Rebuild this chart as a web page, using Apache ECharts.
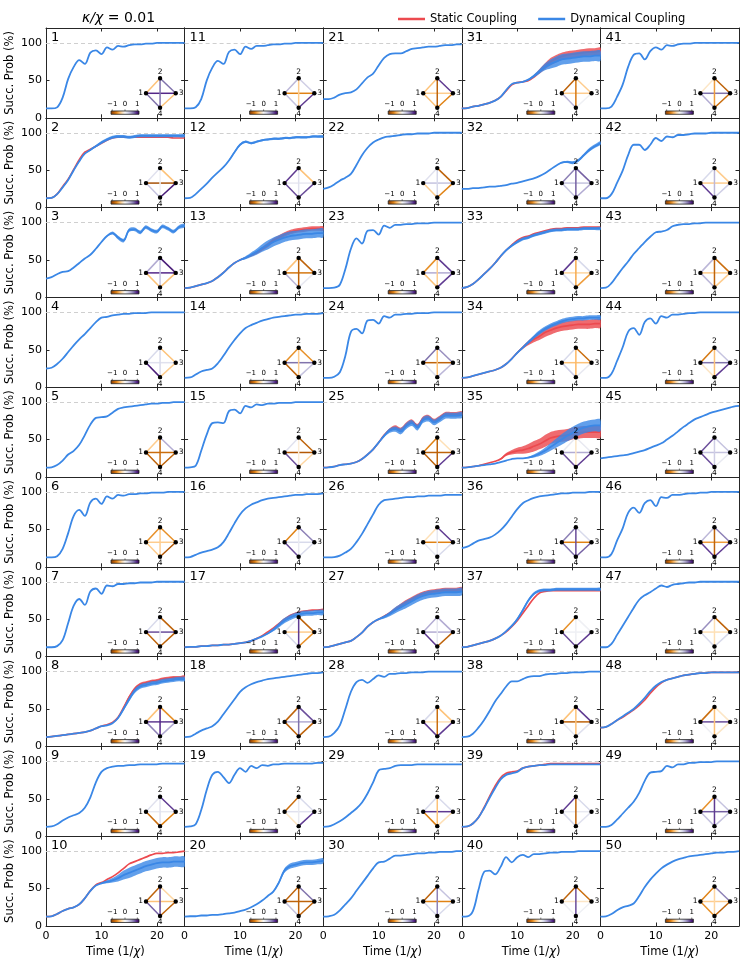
<!DOCTYPE html>
<html>
<head>
<meta charset="utf-8">
<script src="https://cdn.jsdelivr.net/npm/echarts/dist/echarts.min.js"></script>
<style>
  html, body { margin: 0; padding: 0; background: #ffffff; }
  #chart { width: 747px; height: 964px; }
</style>
</head>
<body>
<div id="chart"></div>
<script>
/* global echarts */

// 时间轴采样点 (1/χ)
const T = [0, 1, 2, 3, 4, 5, 6, 7, 8, 9, 10, 11, 12, 13, 14, 15, 16, 17, 18, 19, 20, 21, 22, 23, 24, 25];

// 动态耦合成功概率 (%)，每个面板一行，对应 T
const DYN = [
  [12.5,12.5,14,27,52,68,77,72,87,90,85,94,91,96,95,97,98,98,99,99,100,100,100,100,100,100], // 1
  [12.5,13,18,27,37,50,62,72,77,82,87,91,94,95,95,94,95,96,96,96,96,96,96,96,96,96],          // 2
  [25,27,31,34,35,40,46,52,57,65,74,82,86,80,76,90,91,87,94,90,88,95,92,88,94,96],            // 3
  [25,26,31,38,47,56,64,71,79,87,93,94,96,97,98,98,99,99,99,100,100,100,100,100,100,100],      // 4
  [12.5,13,16,22,30,35,43,56,70,79,80,81,86,91,93,94,95,96,97,98,98,99,99,100,100,100],       // 5
  [12.5,12.5,14,24,45,68,76,68,86,91,84,94,91,96,95,97,97,98,98,99,99,99,100,100,100,100],    // 6
  [12.5,12.5,14,22,45,68,77,69,87,91,84,95,94,97,97,98,98,99,99,99,100,100,100,100,100,100],  // 7
  [12.5,13,14,15,16,17,18,19,21,24,27,28,31,38,50,63,74,80,82,84,85,87,88,89,90,90],          // 8
  [12.5,13,16,21,25,28,31,38,52,72,86,91,93,94,94,95,95,96,96,96,96,97,97,97,97,97],          // 9
  [12.5,13,16,20,23,25,29,37,47,54,57,59,61,64,68,71,74,77,80,82,84,85,85,86,86,86],          // 10
  [12.5,12.5,14,25,50,67,76,72,88,91,85,95,92,96,96,97,98,98,99,99,100,100,100,100,100,100],  // 11
  [12.5,13,18,25,32,40,47,54,63,74,84,88,86,88,90,91,92,92,93,93,94,94,94,95,95,95],          // 12
  [12.5,13,15,17,19,22,27,33,40,46,50,53,57,61,66,70,74,77,80,82,83,84,85,85,86,86],          // 13
  [12.5,13,17,21,23,25,32,42,53,63,72,79,83,86,89,91,93,94,95,96,97,97,98,98,98,99],          // 14
  [12.5,13,15,35,57,72,73,72,88,90,85,95,93,97,96,98,98,99,99,99,100,100,100,100,100,100],    // 15
  [12.5,13,16,19,21,23,26,33,45,58,70,78,83,86,89,91,92,93,94,95,96,96,97,97,97,98],          // 16
  [12.5,13,13,14,14,15,15,16,16,17,18,19,21,24,27,31,36,42,48,52,55,57,58,58,59,59],          // 17
  [12.5,13,17,21,24,27,33,43,53,63,73,79,83,86,88,90,91,92,93,94,95,96,97,98,98,99],          // 18
  [12.5,13,16,35,62,82,86,79,71,82,91,86,94,91,95,94,96,96,97,97,97,97,97,97,98,98],          // 19
  [12.5,13,13,14,14,15,15,16,17,18,20,22,25,29,34,40,46,58,74,80,82,84,85,85,86,87],          // 20
  [25,25,27,31,33,34,38,46,54,59,70,80,85,86,86,89,92,93,94,95,95,96,97,97,98,98],            // 21
  [25,27,31,36,40,45,57,70,80,87,91,94,95,96,97,98,98,99,99,99,100,100,100,100,100,100],      // 22
  [12.5,12.5,13,17,38,65,79,72,89,90,84,96,93,97,97,98,98,99,99,99,100,100,100,100,100,100],  // 23
  [12.5,12.5,14,20,42,74,78,72,89,90,85,95,93,97,97,98,98,99,99,99,100,100,100,100,100,100],  // 24
  [12.5,13,14,16,17,18,20,24,30,37,46,55,62,64,61,68,72,66,76,78,73,77,82,82,82,83],          // 25
  [12.5,12.5,13,15,19,24,33,44,57,70,83,89,90,91,92,93,93,94,94,95,95,95,96,96,96,96],        // 26
  [12.5,13,15,17,19,21,26,32,40,46,50,53,57,62,66,70,74,78,81,83,84,85,86,86,86,87],          // 27
  [12.5,13,18,28,50,73,86,89,85,90,95,93,97,97,98,98,99,99,99,100,100,100,100,100,100,100],   // 28
  [12.5,13,16,20,25,31,37,45,57,72,88,90,91,94,95,95,95,96,96,96,96,96,96,96,96,96],          // 29
  [12.5,13,15,21,29,37,47,57,67,77,85,86,90,94,94,95,96,97,97,98,98,99,99,99,100,100],        // 30
  [12.5,13,15,16,18,20,23,28,37,45,47,48,51,56,62,68,72,75,78,79,80,81,82,82,83,83],          // 31
  [25,25,26,26,27,28,28,29,30,32,33,35,37,39,42,46,51,56,60,61,60,63,70,77,82,86],            // 32
  [12.5,14,18,24,31,38,46,55,63,69,74,78,80,83,85,87,89,90,90,91,91,91,92,92,92,92],          // 33
  [12.5,13,15,17,19,21,23,26,31,38,46,53,60,67,73,78,82,85,88,90,91,92,92,93,93,93],          // 34
  [12.5,13,14,15,16,17,18,20,22,24,25,25,26,28,31,35,40,45,50,55,59,63,66,68,69,69],          // 35
  [25,27,31,35,37,39,43,49,57,67,77,85,89,92,94,95,96,97,98,98,99,99,99,100,100,100],         // 36
  [12.5,13,15,17,19,21,24,28,34,41,50,62,75,84,88,89,89,90,90,90,90,90,90,90,90,90],          // 37
  [12.5,13,17,25,35,47,60,70,80,87,87,90,93,94,94,96,97,97,98,98,99,99,99,100,100,100],       // 38
  [12.5,13,17,25,37,51,64,76,82,84,86,91,93,94,95,95,96,96,96,96,96,96,96,96,96,96],          // 39
  [12.5,13,20,48,72,74,69,79,92,85,92,95,92,96,96,97,98,98,99,99,99,100,100,100,100,100],     // 40
  [12.5,12.5,15,28,44,68,84,86,78,89,94,91,97,96,98,99,99,100,100,100,100,100,100,100,100,100], // 41
  [12.5,12.5,18,33,49,70,84,84,77,84,93,89,95,94,97,97,98,99,99,99,100,100,100,100,100,100],  // 42
  [12.5,13,19,29,39,48,58,66,74,81,87,88,90,95,97,98,98,99,99,100,100,100,100,100,100,100],   // 43
  [12.5,12.5,18,35,53,74,79,70,87,92,85,95,93,97,97,98,99,99,100,100,100,100,100,100,100,100], // 44
  [25,26,27,28,29,30,32,34,36,39,42,45,50,55,61,67,72,77,80,83,86,88,90,92,94,95],            // 45
  [12.5,12.5,17,35,51,72,79,72,85,89,81,93,92,96,96,97,98,98,99,99,100,100,100,100,100,100],  // 46
  [12.5,12.5,17,29,41,53,65,76,82,86,91,95,93,96,97,98,99,99,100,100,100,100,100,100,100,100], // 47
  [25,26,30,35,40,45,50,57,65,74,81,86,89,91,93,95,96,97,98,98,99,99,99,99,99,99],            // 48
  [12.5,12.5,15,22,30,38,46,58,74,85,86,87,94,92,96,96,98,98,99,99,99,100,100,100,100,100],   // 49
  [12.5,13,16,21,25,27,30,40,52,62,70,77,82,86,89,91,93,94,95,96,97,98,98,99,99,100],         // 50
];

// 静态耦合：只列出与动态耦合明显不同的面板（面板编号 -> 值）
const STA = {
  2:  [12.5,13,18,28,38,51,64,74,78,82,86,90,93,94,94,94,94,94,94,94,94,94,94,93,93,93],
  8:  [12.5,13,14,15,16,17,18,19,21,24,27,29,32,39,52,66,77,83,85,87,88,90,91,92,92,93],
  10: [12.5,13,16,20,23,25,29,37,47,55,58,62,66,71,77,83,86,89,92,95,97,97,98,98,99,100],
  13: [12.5,13,15,17,19,22,27,33,40,46,50,53,56,60,65,70,76,80,84,87,89,90,91,92,92,92],
  17: [12.5,13,13,14,14,15,15,16,16,17,18,19,21,24,28,33,38,44,50,55,58,60,61,62,62,63],
  25: [12.5,13,14,16,17,18,20,24,30,37,46,56,63,66,63,70,74,68,78,80,75,79,84,84,84,85],
  27: [12.5,13,15,17,19,21,26,32,40,46,50,54,58,63,68,73,77,81,84,86,87,88,89,89,89,90],
  31: [12.5,13,15,16,18,20,23,28,36,44,47,48,50,55,62,69,75,79,82,84,85,86,87,88,88,89],
  33: [12.5,14,18,24,31,38,46,55,63,70,76,80,82,85,87,89,91,92,92,93,93,93,94,94,94,94],
  34: [12.5,13,15,17,19,21,23,26,31,38,46,53,59,64,68,73,76,79,81,82,83,84,84,84,85,85],
  35: [12.5,13,14,15,17,19,21,24,30,33,35,36,38,41,44,48,52,54,55,56,58,59,60,60,60,60],
  37: [12.5,13,15,17,19,21,24,28,33,40,48,58,68,78,85,87,88,88,88,88,88,88,88,88,88,88],
  39: [12.5,13,17,25,38,53,67,78,84,86,87,91,93,94,95,96,97,97,97,97,97,97,97,97,97,97],
  48: [25,26,30,35,39,44,49,55,62,71,79,85,89,91,93,95,96,97,98,98,99,99,99,99,99,99],
};

// 动态耦合的散布半宽（阴影带）
const DYN_SPREAD = {
  2:  [0,0,0,0,0,0,0,0,1,1.5,2,2,2,2,2,2,2,2,2,2,2,2,2,2,2,2],
  3:  [0,0,0,0,0,0,0,0,0,0,0,1,2,2.5,2.5,2.5,2.5,2.5,2.5,2.5,2.5,2.5,2.5,2.5,2.5,2.5],
  8:  [0,0,0,0,0,0,0,0,0,0,0,0,0,1,2,3,3,3,3,3,3,3,3,3,3,3],
  10: [0,0,0,0,0,0,0,0,0,0,1,2,3,4.5,6,7,7,7,7,7,7,7,7,7,7,7],
  12: [0,0,0,0,0,0,0,0,1,1.5,1.5,1.5,1.5,1.5,1.5,1.5,1.5,1.5,1.5,1.5,1.5,1.5,1.5,1.5,1.5,1.5],
  13: [0,0,0,0,0,0,0,0,0,0,1,2,3,4,5,6,6,6,6,6,6,6,6,6,6,6],
  17: [0,0,0,0,0,0,0,0,0,0,0,0,0,0,0,1,2,3,3.5,3.5,3.5,3.5,3.5,3.5,3.5,3.5],
  20: [0,0,0,0,0,0,0,0,0,0,0,0,0,0,0,0,1,2,3,3.5,3.5,3.5,3.5,3.5,3.5,3.5],
  25: [0,0,0,0,0,0,0,0,0,0,1,2,3,3.5,4,4,4,4,4,4,4,4,4,4,4,4],
  27: [0,0,0,0,0,0,0,0,0,0,1,2,3,4,4.5,5,5,5,5,5,5,5,5,5,5,5],
  31: [0,0,0,0,0,0,0,0,0,0,0,0,1,2,3,4.5,6,7,7,7,7,7,7,7,7,7],
  32: [0,0,0,0,0,0,0,0,0,0,0,0,0,0,0,0,0,0,1,1.5,2,2,2,2.5,2.5,2.5],
  33: [0,0,0,0,0,0,0,0,1,1.5,2,2,2,2,2,2,2,2,2,2,2,2,2,2,2,2],
  34: [0,0,0,0,0,0,0,0,0,0,1,1.5,2,2.5,3,3,3,3,3,3,3,3,3,3,3,3],
  35: [0,0,0,0,0,0,0,0,0,0,0,0,1,2,3,4,5,6,7,7.5,8,8,8,8,8,8],
  37: [0,0,0,0,0,0,0,0,1,1.5,2,2,2,2,2,2,2,2,2,2,2,2,2,2,2,2],
};

// 静态耦合的散布半宽
const STA_SPREAD = {
  8:  [0,0,0,0,0,0,0,0,0,0,0,0,0,0,1,2,2,2,2,2,2,2,2,2,2,2],
  13: [0,0,0,0,0,0,0,0,0,0,0,0,1,2,2.5,3,3,3,3,3,3,3,3,3,3,3],
  25: [0,0,0,0,0,0,0,0,0,0,0,1,2,3,3,3,3,3,3,3,3,3,3,3,3,3],
  27: [0,0,0,0,0,0,0,0,0,0,0,1,2,2.5,3,3,3,3,3,3,3,3,3,3,3,3],
  31: [0,0,0,0,0,0,0,0,0,0,0,0,1,2,3,4,5,5,5,5,5,5,5,5,5,5],
  34: [0,0,0,0,0,0,0,0,0,0,1,2,3,4,5,6,6,6,6,6,6,6,6,6,6,6],
  35: [0,0,0,0,0,0,0,1,2,3,4,5,6,7,7,8,8,8,8,8,8,8,8,8,8,8],
};

// 插图耦合权重 [-1, 1]，边顺序：1-2, 2-3, 3-4, 4-1, 1-3, 2-4
const EDGE_PAIRS = [[1, 2], [2, 3], [3, 4], [4, 1], [1, 3], [2, 4]];
const EDGES = [
  [-0.35,0.6,-0.35,0.6,0.8,0.6],     // 1
  [0.15,-0.35,0.85,0.3,-0.85,0.05],  // 2
  [0.4,0.85,-0.35,-0.35,0.8,0.3],    // 3
  [0.2,-0.35,-0.3,0.85,0.15,0.2],    // 4
  [-0.3,0.4,-0.75,-0.75,-0.7,-0.7],  // 5
  [-0.55,-0.55,-0.8,-0.3,-0.3,-0.3], // 6
  [0.2,-0.75,-0.75,-0.75,0.7,0.1],   // 7
  [-0.35,-0.55,0.4,0.55,0.75,0.8],   // 8
  [0.15,0.75,-0.6,-0.7,0.1,0.15],    // 9
  [-0.75,-0.25,-0.75,0.65,-0.35,0.7],// 10
  [0.35,0.25,0.75,0.3,-0.6,-0.3],    // 11
  [0.75,-0.35,0.7,0.7,0.1,0.15],     // 12
  [-0.35,-0.75,0.1,0.35,-0.65,-0.75],// 13
  [-0.55,-0.55,0.3,-0.75,0.6,-0.3],  // 14
  [0.15,-0.75,-0.25,0.7,-0.8,-0.1],  // 15
  [-0.6,0.55,0.2,0.7,0.2,0.1],       // 16
  [0.1,-0.75,-0.55,0.2,-0.3,0.75],   // 17
  [-0.75,0.7,-0.75,-0.75,0.4,0.6],   // 18
  [-0.7,0.2,0.75,-0.15,0.15,0.1],    // 19
  [-0.75,0.6,-0.75,0.3,-0.75,-0.75], // 20
  [-0.35,0.75,-0.6,-0.35,-0.3,-0.75],// 21
  [0.15,-0.75,-0.6,-0.3,0.3,0.2],    // 22
  [-0.55,0.75,0.75,-0.35,0.4,-0.3],  // 23
  [0.6,0.5,0.35,0.15,-0.75,-0.35],   // 24
  [-0.6,-0.2,0.75,-0.75,-0.75,-0.75],// 25
  [-0.2,0.75,0.2,0.1,-0.6,0.1],      // 26
  [0.4,0.4,-0.75,0.75,0.4,0.1],      // 27
  [0.2,-0.35,0.75,0.75,-0.2,-0.7],   // 28
  [0.2,0.2,-0.2,-0.6,0.75,-0.35],    // 29
  [-0.75,0.3,0.2,0.2,-0.6,0.55],     // 30
  [-0.75,-0.3,0.05,0.35,-0.3,-0.65], // 31
  [0.55,0.65,0.4,0.3,0.3,0.65],      // 32
  [0.75,0.2,-0.5,0.2,-0.25,-0.45],   // 33
  [0.2,-0.7,0.1,0.25,-0.35,-0.4],    // 34
  [0.1,0.1,0.75,0.7,0.4,-0.15],      // 35
  [0.55,0.2,0.65,0.6,-0.6,0.7],      // 36
  [-0.55,0.05,0.75,0.7,0.05,0.05],   // 37
  [-0.35,0.75,0.15,0.1,-0.75,-0.35], // 38
  [0.75,0.2,0.15,0.2,0.1,-0.75],     // 39
  [-0.75,-0.7,0.05,0.05,-0.15,0.7],  // 40
  [-0.15,-0.75,-0.7,0.4,0.6,-0.5],   // 41
  [0.2,-0.3,0.25,0.75,-0.3,0.35],    // 42
  [0.35,-0.7,-0.3,0.35,-0.3,-0.75],  // 43
  [-0.65,0.3,0.75,-0.15,0.6,-0.35],  // 44
  [0.7,0.3,0.1,0.7,0.3,0.25],        // 45
  [0.35,0.55,0.75,0.75,-0.5,-0.75],  // 46
  [0.5,-0.75,0.2,0.2,-0.2,-0.2],     // 47
  [-0.7,-0.15,-0.15,0.05,0.7,-0.35], // 48
  [-0.55,0.3,0.3,0.3,0.65,0.75],     // 49
  [-0.6,0.55,-0.75,-0.55,-0.3,-0.25],// 50
];

const Y_TICKS = [0, 50, 100];
const X_TICKS = [0, 10, 20];
const CBAR_LABELS = ['\u22121', '0', '1'];

// ---- 样式与版式 ----
const FONT = '"DejaVu Sans", sans-serif';
const RED = '#ec4a4f';
const BLUE = '#3a87e6';
const RED_BAND = 'rgba(236, 74, 79, 0.82)';
const BLUE_BAND = 'rgba(58, 135, 230, 0.8)';
const AX = '#262626';
const SMOOTH = 0.35;
const ROWS = 10;
const GL = 46, GT = 28, GW = 138.6, GH = 89.8;

// PuOr 色图（-1 橙 → 0 白 → 1 紫）
const PUOR = ['#7f3b08', '#b35806', '#e08214', '#fdb863', '#fee0b6', '#f7f7f7',
  '#d8daeb', '#b2abd2', '#8073ac', '#542788', '#2d004b'];
function hexRgb(h) { return [1, 3, 5].map((i) => parseInt(h.substr(i, 2), 16)); }
function cmap(v) {
  const p = Math.max(0, Math.min(1, (v + 1) / 2)) * (PUOR.length - 1);
  const i = Math.min(PUOR.length - 2, Math.floor(p));
  const f = p - i;
  const a = hexRgb(PUOR[i]), b = hexRgb(PUOR[i + 1]);
  return 'rgb(' + a.map((c, k) => Math.round(c + (b[k] - c) * f)).join(',') + ')';
}

// 插图几何（相对面板宽高）
const NODE_POS = { 1: [0.7215, 0.727], 2: [0.823, 0.56], 3: [0.936, 0.727], 4: [0.823, 0.888] };
const CBAR = { x0: 0.469, x1: 0.671, y0: 0.924, y1: 0.961, ticks: [0.478, 0.570, 0.659], labelY: 0.848 };

function txt(x, y, s, size, align, valign) {
  return {
    type: 'text',
    style: {
      x, y, text: s, fontSize: size, fontFamily: FONT, fill: '#000',
      align, verticalAlign: valign, textAlign: align, textVerticalAlign: valign,
    },
  };
}

function insetRenderer(n) {
  const w = EDGES[n - 1];
  return function (params) {
    const cs = params.coordSys;
    const px = (f) => cs.x + f * cs.width;
    const py = (f) => cs.y + f * cs.height;
    const P = {};
    Object.keys(NODE_POS).forEach((k) => { P[k] = [px(NODE_POS[k][0]), py(NODE_POS[k][1])]; });
    const ch = [];
    ch.push(txt(cs.x + 5, cs.y + 3, String(n), 13, 'left', 'top'));
    // 边
    EDGE_PAIRS.forEach(([a, b], k) => {
      ch.push({
        type: 'line',
        shape: { x1: P[a][0], y1: P[a][1], x2: P[b][0], y2: P[b][1] },
        style: { stroke: cmap(w[k]), lineWidth: 1.5 },
      });
    });
    // 节点
    Object.keys(P).forEach((k) => {
      ch.push({ type: 'circle', shape: { cx: P[k][0], cy: P[k][1], r: 2.2 }, style: { fill: '#000' } });
    });
    ch.push(txt(P[2][0], P[2][1] - 2.5, '2', 7.5, 'center', 'bottom'));
    ch.push(txt(P[1][0] - 3, P[1][1], '1', 7.5, 'right', 'middle'));
    ch.push(txt(P[3][0] + 3, P[3][1], '3', 7.5, 'left', 'middle'));
    ch.push(txt(P[4][0], P[4][1] + 2.5, '4', 7.5, 'center', 'top'));
    // 色条
    const bx0 = px(CBAR.x0), bx1 = px(CBAR.x1), by0 = py(CBAR.y0), by1 = py(CBAR.y1);
    ch.push({
      type: 'rect',
      shape: { x: bx0, y: by0, width: bx1 - bx0, height: by1 - by0 },
      style: {
        fill: new echarts.graphic.LinearGradient(0, 0, 1, 0,
          PUOR.map((c, i) => ({ offset: i / (PUOR.length - 1), color: c }))),
        stroke: '#222', lineWidth: 0.8,
      },
    });
    CBAR.ticks.forEach((f, k) => {
      const x = px(f);
      ch.push({ type: 'line', shape: { x1: x, y1: by0, x2: x, y2: by0 - 1.6 }, style: { stroke: '#222', lineWidth: 0.6 } });
      ch.push(txt(x, py(CBAR.labelY), CBAR_LABELS[k], 7, 'center', 'middle'));
    });
    return { type: 'group', children: ch };
  };
}

function pairs(vals) { return T.map((t, k) => [t, vals[k]]); }

// 阴影带：custom 系列，经坐标轴换算后画成一个闭合多边形
function bandSeries(mean, spread, color, xi, yi, z) {
  const rows = T.map((t, k) => [t, mean[k] - spread[k], mean[k] + spread[k]]);
  return {
    type: 'custom', xAxisIndex: xi, yAxisIndex: yi, coordinateSystem: 'cartesian2d',
    data: rows, encode: { x: 0, y: [1, 2] }, z, silent: true, clip: true,
    renderItem: (params, api) => {
      if (params.dataIndex !== 0) return null;
      const up = rows.map((r) => api.coord([r[0], r[2]]));
      const lo = rows.map((r) => api.coord([r[0], r[1]])).reverse();
      return {
        type: 'polygon',
        shape: { points: up.concat(lo), smooth: 0.3 },
        style: { fill: color },
      };
    },
  };
}

const grids = [], xAxes = [], yAxes = [], series = [];
const TICK_LABEL = { fontSize: 11, color: '#000', fontFamily: FONT };

for (let n = 1; n <= 50; n++) {
  const i = n - 1;
  const col = Math.floor(i / ROWS), row = i % ROWS;
  grids.push({
    left: GL + col * GW, top: GT + row * GH, width: GW, height: GH,
    containLabel: false, outerBoundsMode: 'none',
  });
  const lastRow = row === ROWS - 1;
  const firstCol = col === 0;
  ['bottom', 'top'].forEach((pos) => {
    const lab = pos === 'bottom' && lastRow;
    xAxes.push({
      gridIndex: i, type: 'value', min: 0, max: 25, interval: 10, position: pos,
      axisLine: { show: true, onZero: false, lineStyle: { color: AX, width: 1 } },
      axisTick: { show: true, inside: true, length: 3.5, lineStyle: { color: AX, width: 1 } },
      axisLabel: {
        show: lab, margin: 5, ...TICK_LABEL, showMinLabel: true, showMaxLabel: false,
        formatter: (v) => (X_TICKS.includes(v) ? String(v) : ''),
      },
      splitLine: { show: false },
      name: lab ? 'Time (1/{i|\u03c7})' : '',
      nameLocation: 'middle', nameGap: 20,
      nameTextStyle: {
        fontSize: 11.5, color: '#000', fontFamily: FONT,
        rich: { i: { fontSize: 11.5, fontStyle: 'italic', fontFamily: FONT, color: '#000' } },
      },
    });
  });
  ['left', 'right'].forEach((pos) => {
    const lab = pos === 'left' && firstCol;
    yAxes.push({
      gridIndex: i, type: 'value', min: 0, max: 120, interval: 50, position: pos,
      axisLine: { show: true, onZero: false, lineStyle: { color: AX, width: 1 } },
      axisTick: { show: true, inside: true, length: 3.5, lineStyle: { color: AX, width: 1 } },
      axisLabel: {
        show: lab, margin: 4, ...TICK_LABEL, showMinLabel: true, showMaxLabel: false,
        formatter: (v) => (Y_TICKS.includes(v) ? String(v) : ''),
      },
      splitLine: { show: false },
      name: lab ? 'Succ. Prob (%)' : '',
      nameLocation: 'middle', nameGap: 30,
      nameTextStyle: { fontSize: 11.5, color: '#000', fontFamily: FONT },
    });
  });

  const xi = 2 * i, yi = 2 * i;
  // 100% 参考虚线
  series.push({
    type: 'line', xAxisIndex: xi, yAxisIndex: yi, data: [], z: 1, silent: true,
    markLine: {
      silent: true, symbol: ['none', 'none'], z: 1, animation: false,
      label: { show: false },
      lineStyle: { type: [4, 3], color: '#cfcfcf', width: 1.2 },
      emphasis: { disabled: true },
      data: [{ yAxis: 100 }],
    },
  });
  // 静态耦合
  if (STA_SPREAD[n]) series.push(bandSeries(STA[n], STA_SPREAD[n], RED_BAND, xi, yi, 2));
  if (STA[n]) {
    series.push({
      name: 'Static Coupling', type: 'line', xAxisIndex: xi, yAxisIndex: yi,
      data: pairs(STA[n]), symbol: 'none', smooth: SMOOTH, z: 3, silent: true,
      lineStyle: { color: RED, width: 1.7 }, itemStyle: { color: RED },
    });
  }
  // 动态耦合
  if (DYN_SPREAD[n]) series.push(bandSeries(DYN[i], DYN_SPREAD[n], BLUE_BAND, xi, yi, 4));
  series.push({
    name: 'Dynamical Coupling', type: 'line', xAxisIndex: xi, yAxisIndex: yi,
    data: pairs(DYN[i]), symbol: 'none', smooth: SMOOTH, z: 5, silent: true,
    lineStyle: { color: BLUE, width: 1.8 }, itemStyle: { color: BLUE },
  });
  // 插图：耦合图 + 色条 + 面板编号
  series.push({
    type: 'custom', xAxisIndex: xi, yAxisIndex: yi, coordinateSystem: 'cartesian2d',
    data: [[0, 0]], encode: { x: 0, y: 1 }, z: 6, silent: true, clip: false,
    renderItem: insetRenderer(n),
  });
}

const chart = echarts.init(document.getElementById('chart'), null, { renderer: 'canvas' });
chart.setOption({
  animation: false,
  backgroundColor: '#ffffff',
  textStyle: { fontFamily: FONT },
  title: {
    text: '{i|\u03ba/\u03c7} = 0.01', left: 77, top: 6,
    textStyle: {
      fontSize: 14, fontWeight: 'normal', color: '#000', fontFamily: FONT,
      rich: { i: { fontSize: 14, fontStyle: 'italic', color: '#000', fontFamily: FONT } },
    },
  },
  legend: {
    left: 393, top: 8, icon: 'rect', itemWidth: 27, itemHeight: 2.5, itemGap: 21,
    textStyle: { fontSize: 11.5, color: '#000', fontFamily: FONT },
    data: ['Static Coupling', 'Dynamical Coupling'],
  },
  grid: grids,
  xAxis: xAxes,
  yAxis: yAxes,
  series,
});
</script>
</body>
</html>
